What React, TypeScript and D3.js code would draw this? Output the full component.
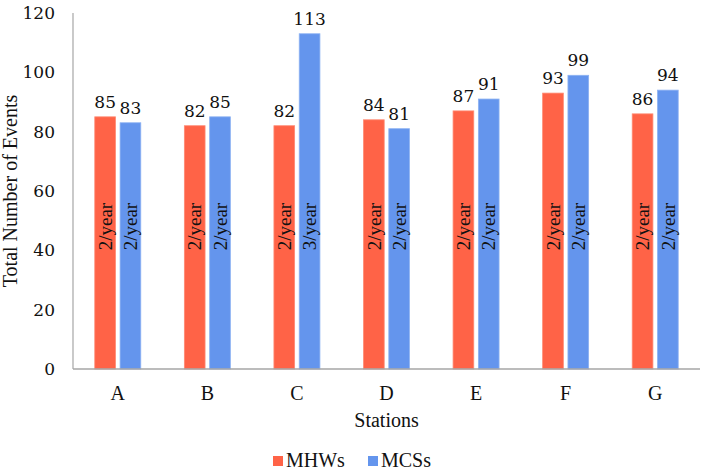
import React from "react";
import * as d3 from "d3";

const stations = ["A", "B", "C", "D", "E", "F", "G"];
const seriesNames = ["MHWs", "MCSs"];
const mhws = [85, 82, 82, 84, 87, 93, 86];
const mcss = [83, 85, 113, 81, 91, 99, 94];
const mhwsRate = ["2/year", "2/year", "2/year", "2/year", "2/year", "2/year", "2/year"];
const mcssRate = ["2/year", "2/year", "3/year", "2/year", "2/year", "2/year", "2/year"];
const yTicks = [0, 20, 40, 60, 80, 100, 120];

const colors = ["#FF6347", "#6495ED"];
const strokes = ["#FF8A73", "#8DB2F2"];

export default function App() {
  const W = 703, H = 475;
  const left = 73, right = 700, top = 13, bottom = 369;
  const font = "Liberation Serif";
  const numFont = "DejaVu Serif";
  const numSize = 17;

  const x0 = d3.scaleBand<string>().domain(stations).range([left, right]).padding(0);
  const groupW = 46;
  const x1 = d3.scaleBand<string>().domain(seriesNames).range([0, groupW]).paddingInner(0.182);
  const y = d3.scaleLinear().domain([0, 120]).range([bottom, top]);

  const series = [mhws, mcss];
  const rates = [mhwsRate, mcssRate];

  return (
    <svg width={W} height={H} style={{ position: "absolute", left: 0, top: 0, background: "#fff", fontFamily: font }}>
      {/* y tick labels */}
      {yTicks.map((t) => (
        <text key={t} x={55} y={y(t)} dy="0.36em" textAnchor="end" fontSize={numSize} fill="#111" style={{ fontFamily: numFont }}>
          {t}
        </text>
      ))}
      {/* bars */}
      {stations.map((s, i) => {
        const gx = x0(s)! + x0.bandwidth() / 2 - groupW / 2;
        return (
          <g key={s}>
            {series.map((vals, k) => {
              const bx = gx + x1(seriesNames[k])!;
              const bw = x1.bandwidth();
              return (
                <g key={k}>
                  <rect x={bx} y={y(vals[i])} width={bw} height={y(0) - y(vals[i])} fill={colors[k]} stroke={strokes[k]} strokeWidth={0.8} />
                  <text x={bx + bw / 2} y={y(vals[i]) - 9} textAnchor="middle" fontSize={numSize} fill="#111" style={{ fontFamily: numFont }}>
                    {vals[i]}
                  </text>
                  <text
                    transform={`translate(${bx + bw / 2},${y(48)}) rotate(-90)`}
                    textAnchor="middle"
                    dy="0.35em"
                    fontSize={19}
                    fill="#111"
                    style={{ fontFamily: font }}
                  >
                    {rates[k][i]}
                  </text>
                </g>
              );
            })}
          </g>
        );
      })}
      {/* axes */}
      <line x1={left} x2={left} y1={top} y2={bottom} stroke="#A6A6A6" strokeWidth={1.2} />
      <line x1={left} x2={right} y1={bottom} y2={bottom} stroke="#A6A6A6" strokeWidth={1.5} />
      {/* x tick labels */}
      {stations.map((s) => (
        <text key={s} x={x0(s)! + x0.bandwidth() / 2} y={400} textAnchor="middle" fontSize={20} fill="#111" style={{ fontFamily: font }}>
          {s}
        </text>
      ))}
      {/* axis titles */}
      <text x={(left + right) / 2} y={427} textAnchor="middle" fontSize={20} fill="#111" style={{ fontFamily: font }}>
        Stations
      </text>
      <text transform={`translate(17,${(top + bottom) / 2}) rotate(-90)`} textAnchor="middle" fontSize={20} fill="#111" style={{ fontFamily: font }}>
        Total Number of Events
      </text>
      {/* legend */}
      {seriesNames.map((n, k) => {
        const lx = k === 0 ? 273 : 368;
        return (
          <g key={n}>
            <rect x={lx} y={456} width={10} height={10} fill={colors[k]} />
            <text x={lx + 13} y={467} fontSize={20} fill="#111" style={{ fontFamily: font }}>
              {n}
            </text>
          </g>
        );
      })}
    </svg>
  );
}
